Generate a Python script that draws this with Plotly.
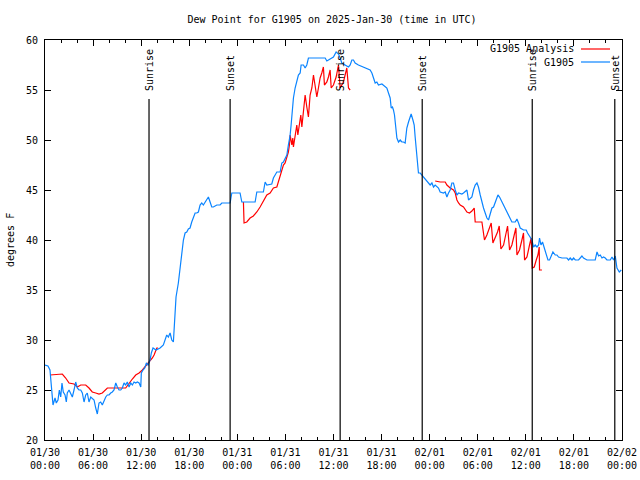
import plotly.graph_objects as go
import pandas as pd

START = pd.Timestamp("2025-01-30 00:00")

# G1905 observations: hours after 2025-01-30 00:00 UTC, dew point (F)
obs_hours = [0.0, 0.37, 0.62, 0.79, 1.0, 1.25, 1.41, 1.62, 1.79, 1.96, 2.12, 2.28, 2.5, 2.66, 2.78,
             3.0, 3.21, 3.41, 3.62, 3.83, 4.03, 4.24, 4.46, 4.66, 4.87, 5.08, 5.28, 5.49, 5.71, 5.9,
             6.12, 6.33, 6.53, 6.74, 6.95, 7.15, 7.37, 7.58, 7.78, 7.99, 8.2, 8.4, 8.61, 8.83, 9.03,
             9.24, 9.45, 9.65, 9.86, 10.07, 10.27, 10.49, 10.7, 10.9, 11.11, 11.32, 11.52, 11.74,
             11.95, 12.02, 12.23, 12.45, 12.65, 12.86, 13.11, 13.27, 13.48, 13.86, 14.36, 14.77,
             15.19, 15.39, 15.61, 15.82, 16.02, 16.14, 16.35, 16.64, 16.85, 17.07, 17.27, 17.48,
             17.69, 17.89, 18.1, 18.31, 18.51, 18.73, 18.94, 19.14, 19.35, 19.56, 19.76, 19.98,
             20.19, 20.39, 20.6, 20.81, 21.01, 21.22, 21.44, 21.85, 22.06, 23.1, 23.31, 24.34,
             24.56, 26.22, 26.43, 27.25, 27.47, 27.68, 28.3, 28.5, 28.71, 28.93, 29.34, 29.55,
             29.75, 29.96, 30.18, 30.37, 30.59, 30.71, 30.84, 31.0, 31.21, 31.42, 31.62, 31.84,
             31.96, 32.25, 32.46, 32.67, 32.87, 34.96, 35.17, 35.58, 35.99, 36.33, 36.62, 36.83,
             37.04, 37.45, 37.87, 38.08, 38.29, 38.49, 38.7, 39.11, 39.74, 39.95, 40.57, 40.79,
             40.99, 41.2, 41.41, 41.61, 42.04, 42.45, 42.66, 42.86, 43.07, 43.2, 43.36, 43.48,
             43.61, 43.78, 43.91, 44.11, 44.32, 44.53, 44.73, 44.94, 45.15, 45.36, 45.57, 45.69,
             45.91, 46.07, 46.19, 46.32, 46.48, 46.6, 46.82, 47.03, 47.23, 47.44, 47.65, 47.85,
             48.06, 48.28, 48.48, 48.69, 49.1, 49.31, 49.73, 49.94, 50.15, 50.35, 50.56, 50.77,
             50.97, 51.19, 51.4, 51.6, 52.02, 52.22, 52.65, 52.85, 53.06, 53.27, 53.47, 53.68,
             53.9, 54.09, 54.31, 54.52, 54.72, 54.93, 55.14, 55.34, 55.56, 55.77, 55.97, 56.18,
             56.39, 56.52, 56.72, 57.02, 57.22, 57.43, 57.64, 57.84, 58.05, 58.26, 58.68, 58.89,
             59.09, 59.3, 59.71, 60.05, 60.21, 60.55, 60.76, 60.96, 61.17, 61.39, 61.59, 61.71,
             61.89, 62.08, 62.3, 62.55, 62.76, 62.96, 63.17, 63.38, 63.67, 63.88, 64.08, 64.51,
             65.13, 65.33, 65.54, 65.76, 65.96, 66.17, 66.58, 67.0, 67.2, 67.63, 68.66, 68.88,
             69.08, 69.29, 69.5, 69.7, 69.91, 70.12, 70.54, 70.75, 70.95, 71.16, 71.37, 71.66,
             71.91]
obs_dewpt = [27.5, 27.4, 27.0, 25.7, 23.5, 24.2, 23.7, 24.0, 25.0, 24.3, 25.7, 24.8, 24.5, 23.8, 24.7,
             25.0, 24.7, 24.3, 25.0, 25.8, 25.2, 25.0, 25.0, 24.7, 23.8, 24.5, 24.7, 23.8, 24.3, 24.2,
             24.0, 23.2, 22.6, 23.7, 23.8, 23.5, 24.0, 24.3, 24.5, 24.5, 24.7, 24.8, 25.0, 25.7, 25.3,
             25.0, 25.0, 25.2, 25.7, 25.5, 25.8, 25.3, 25.7, 25.5, 25.8, 25.7, 25.8, 25.7,
             25.3, 26.7, 27.0, 27.2, 27.7, 27.5, 28.0, 28.7, 29.2, 29.0, 29.2, 29.5,
             30.5, 30.3, 30.7, 30.0, 29.8, 31.3, 34.3, 35.7, 37.3, 38.5, 40.0, 40.7,
             40.8, 41.1, 41.2, 41.8, 42.2, 42.7, 42.7, 42.8, 43.5, 43.7, 43.5, 43.8,
             44.0, 44.3, 43.8, 43.3, 43.3, 43.4, 43.5, 43.5, 43.7, 43.7, 44.7, 44.7,
             43.8, 43.8, 44.8, 44.8, 45.8, 45.5, 45.6, 46.2, 46.5, 46.8, 46.8, 47.7,
             47.8, 48.2, 48.5, 49.5, 50.5, 51.5, 53.2, 54.2, 55.2, 55.8, 56.5, 56.7,
             57.5, 57.5, 57.2, 57.5, 58.2, 58.2, 57.9, 58.1, 58.3, 58.8, 58.6, 58.2,
             57.7, 57.5, 57.3, 57.5, 58.0, 58.0, 57.7, 57.5, 57.3, 57.2, 57.0, 56.7,
             56.3, 55.7, 55.8, 55.5, 55.6, 55.3, 55.2, 54.7, 54.2, 53.2, 53.3, 53.0,
             52.5, 51.2, 50.2, 49.8, 50.0, 49.8, 49.8, 49.7, 51.2, 51.8, 52.3, 52.6,
             52.0, 51.5, 50.3, 49.3, 48.0, 46.7, 46.7, 46.5, 46.4, 46.2, 46.0, 45.8,
             45.5, 45.7, 45.3, 45.5, 45.2, 44.8, 44.7, 44.8, 44.3, 44.7, 45.0, 45.7,
             45.7, 45.0, 44.5, 44.7, 44.6, 44.7, 45.0, 44.0, 44.2, 44.3, 45.0, 45.5,
             45.7, 45.3, 44.5, 43.7, 43.2, 42.7, 42.2, 42.0, 42.5, 43.2, 43.3, 43.8,
             44.2, 44.5, 44.3, 43.8, 43.5, 43.2, 42.8, 42.5, 42.0, 41.8, 41.8, 42.1,
             41.7, 41.2, 41.0, 41.0, 40.7, 40.2, 40.0, 39.3, 39.5, 39.3, 39.5, 40.2,
             39.5, 39.8, 39.2, 38.7, 38.0, 38.0, 38.5, 38.8, 38.5, 38.5, 38.3, 38.2,
             38.2, 38.0, 38.2, 38.0, 38.2, 38.0, 38.0, 38.4, 38.2, 38.0, 38.0, 38.8,
             38.4, 38.5, 38.2, 38.3, 38.2, 38.0, 38.0, 38.3, 38.0, 38.4, 37.2, 36.8,
             37.0]

# G1905 Analysis (None = gap)
ana_hours = [0.62, 1.54, 2.16, 2.58, 3.0, 3.62, 4.03, 4.46, 5.08, 5.49, 5.9, 6.33, 6.74, 7.15, 7.58,
             7.78, 10.07, 10.49, 10.9, 11.32, 11.74, 12.15, 12.57, 12.98, 13.4, 13.61, 13.95, 14.11,
             None,
             24.76, 24.84, 25.18, 25.59, 26.0, 26.43, 26.84, 27.25, 27.68, 28.09, 28.5, 28.93, 29.13,
             29.34, 29.55, 29.75, 29.96, 30.18, 30.37, 30.5, 30.59, 30.8, 30.92, 31.0, 31.21, 31.42,
             31.55, 31.75, 31.92, 32.05, 32.25, 32.46, 32.67, 32.87, 33.08, 33.3, 33.5, 33.71, 33.92,
             34.12, 34.33, 34.54, 34.74, 34.87, 35.17, 35.37, 35.58, 35.71, 35.99, 36.33, 36.62,
             36.83, 37.24, 37.66, 37.87, 38.08,
             None,
             48.69, 49.31, 49.94, 50.15, 50.56, 50.97, 51.19, 51.4, 51.6, 51.81, 52.22, 52.65, 52.97,
             53.27, 53.56, 53.68, 54.52, 54.72, 54.84, 55.14, 55.43, 55.68, 55.89, 56.18, 56.47,
             56.68, 56.89, 57.22, 57.52, 57.72, 57.97, 58.26, 58.55, 58.76, 58.89, 59.21, 59.51,
             59.71, 59.84, 60.14, 60.46, 60.67, 60.8, 61.05, 61.3, 61.51, 61.67, 61.71, 62.01]
ana_dewpt = [26.5, 26.6, 26.6, 26.2, 25.7, 25.6, 25.3, 25.5, 25.5, 25.2, 24.8, 24.7, 24.6, 24.7, 25.0,
             25.2, 25.2, 25.7, 26.1, 26.5, 26.7, 27.0, 27.4, 27.7, 28.2, 28.5, 29.2, 29.2,
             None,
             43.8, 41.7, 41.8, 42.2, 42.4, 42.8, 43.3, 43.9, 44.5, 44.7, 45.2, 45.3, 45.8,
             46.5, 47.0, 47.5, 47.7, 48.2, 48.8, 49.5, 50.5, 49.5, 50.2, 49.3, 50.7, 51.5,
             50.5, 51.8, 52.5, 51.3, 52.8, 54.5, 53.3, 52.3, 54.5, 55.2, 56.5, 55.5, 54.3,
             55.2, 56.2, 56.7, 57.3, 55.5, 55.8, 56.3, 57.0, 55.2, 55.5, 56.3, 57.5,
             55.2, 55.8, 57.2, 55.2, 55.0,
             None,
             45.9, 45.8, 45.8, 45.5, 45.2, 45.0, 44.7, 44.0, 43.7, 43.5, 43.3, 42.8, 42.7,
             42.9, 43.2, 41.8, 41.8, 40.8, 40.0, 40.5, 41.2, 41.7, 39.7, 40.2, 40.8,
             41.4, 39.1, 39.5, 40.5, 41.4, 39.0, 39.5, 40.5, 41.2, 38.5, 39.0, 40.0,
             40.7, 38.0, 38.3, 39.5, 40.2, 37.2, 37.3, 38.0, 38.5, 39.3, 37.0, 37.0]

# Sunrise / sunset events (hours after start)
event_hours = [12.98, 23.1, 36.83, 47.07, 60.8, 71.1]
event_labels = ["Sunrise", "Sunset", "Sunrise", "Sunset", "Sunrise", "Sunset"]

tick_hours = list(range(0, 73, 6))
tick_labels = ["01/30<br>00:00", "01/30<br>06:00", "01/30<br>12:00", "01/30<br>18:00",
               "01/31<br>00:00", "01/31<br>06:00", "01/31<br>12:00", "01/31<br>18:00",
               "02/01<br>00:00", "02/01<br>06:00", "02/01<br>12:00", "02/01<br>18:00",
               "02/02<br>00:00"]


def to_time(hours):
    return [None if h is None else START + pd.Timedelta(hours=h) for h in hours]


FONT = "DejaVu Sans Mono"
RED = "#ff0000"
BLUE = "#0a84ff"

fig = go.Figure()
fig.add_trace(go.Scatter(x=to_time(ana_hours), y=ana_dewpt, mode="lines",
                         line=dict(color=RED, width=1.2), connectgaps=False,
                         name="G1905 Analysis", showlegend=False))
fig.add_trace(go.Scatter(x=to_time(obs_hours), y=obs_dewpt, mode="lines",
                         line=dict(color=BLUE, width=1.2), name="G1905", showlegend=False))

for h, lab in zip(event_hours, event_labels):
    t = START + pd.Timedelta(hours=h)
    fig.add_shape(type="line", xref="x", yref="y", x0=t, x1=t, y0=20, y1=54.1,
                  line=dict(color="black", width=1.2))
    fig.add_annotation(x=t, y=54.7, xref="x", yref="y", text=lab, textangle=-90,
                       showarrow=False, xanchor="center", yanchor="bottom",
                       font=dict(family=FONT, size=10, color="black"))

# gnuplot-style legend (text, then line sample)
legend_items = [("G1905 Analysis", RED), ("G1905", BLUE)]
for i, (lab, col) in enumerate(legend_items):
    py = 49 + 13 * i
    yp = (440 - py) / 400
    fig.add_annotation(x=(576 - 45) / 577, y=yp, xref="paper", yref="paper", text=lab,
                       showarrow=False, xanchor="right", yanchor="middle",
                       font=dict(family=FONT, size=10, color="black"))
    fig.add_shape(type="line", xref="paper", yref="paper",
                  x0=(581 - 45) / 577, x1=(610 - 45) / 577, y0=yp, y1=yp,
                  line=dict(color=col, width=1.2))

fig.add_annotation(x=(10 - 45) / 577, y=0.5, xref="paper", yref="paper", text="degrees F",
                   textangle=-90, showarrow=False, xanchor="center", yanchor="middle",
                   font=dict(family=FONT, size=10, color="black"))

fig.update_layout(
    width=640, height=480,
    margin=dict(l=45, r=18, t=40, b=40, autoexpand=False),
    paper_bgcolor="white", plot_bgcolor="white",
    title=dict(text="Dew Point for G1905 on 2025-Jan-30 (time in UTC)", x=332 / 640,
               xanchor="center", y=1 - 19 / 480, yanchor="middle",
               font=dict(family=FONT, size=10, color="black")),
    font=dict(family=FONT, size=10, color="black"),
    showlegend=False,
)
fig.update_xaxes(
    range=[START, START + pd.Timedelta(hours=72)],
    tickvals=to_time(tick_hours), ticktext=tick_labels,
    ticks="inside", ticklen=6, tickcolor="black", tickwidth=1,
    minor=dict(dtick=2 * 3600 * 1000, ticks="inside", ticklen=3, tickcolor="black", showgrid=False),
    showline=True, linecolor="black", linewidth=1, mirror="allticks",
    showgrid=False, zeroline=False, automargin=False, ticklabelstandoff=3,
    tickfont=dict(family=FONT, size=10, color="black"),
)
fig.update_yaxes(
    range=[20, 60], dtick=5, tick0=20,
    ticks="inside", ticklen=6, tickcolor="black", tickwidth=1,
    showline=True, linecolor="black", linewidth=1, mirror="allticks",
    showgrid=False, zeroline=False, automargin=False, ticklabelstandoff=4,
    tickfont=dict(family=FONT, size=10, color="black"),
)

fig.write_html("out.html", config={"displayModeBar": False},
               post_script="document.body.style.margin='0';document.body.style.overflow='hidden';")
